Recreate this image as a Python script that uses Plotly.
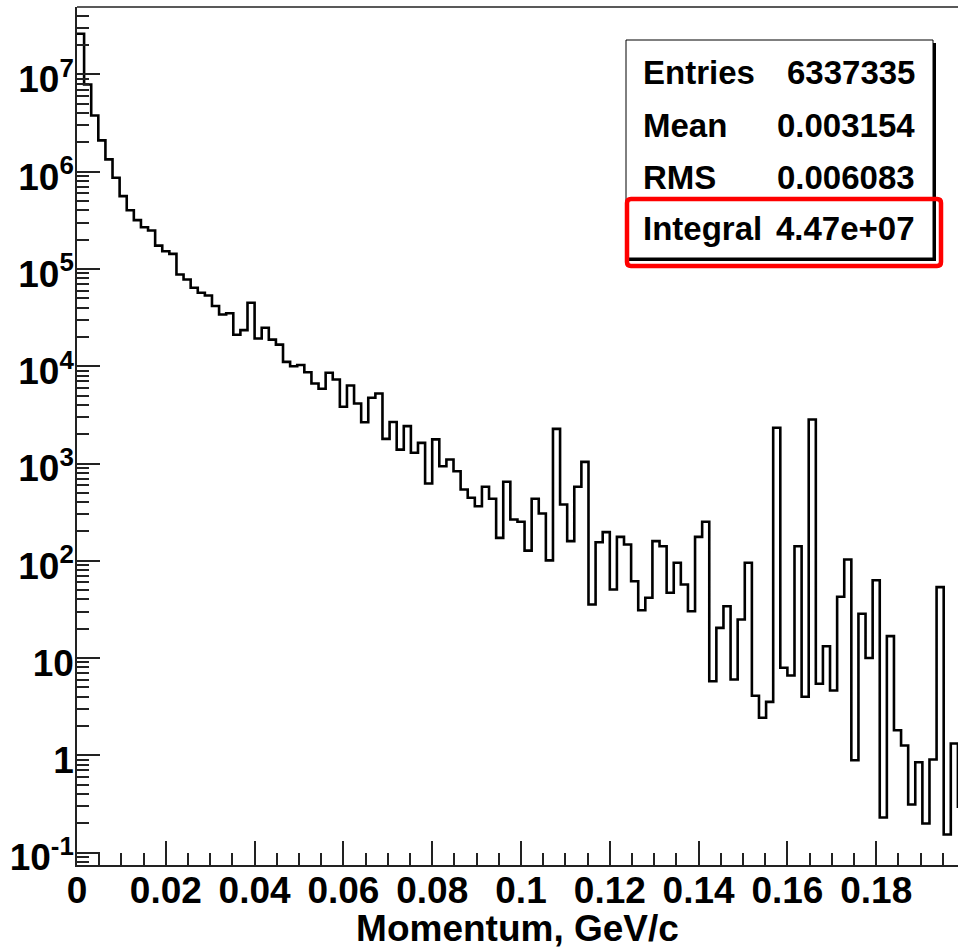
import numpy as np
import plotly.graph_objects as go

# Histogram binning: 125 bins over 0 .. 0.2 GeV/c
BIN_LO, BIN_HI, N_BINS = 0.0, 0.2, 125

# Bin contents (weighted counts per bin)
counts = [
    2.62e7, 7.89e6, 3.79e6, 2.10e6, 1.34e6, 8.67e5, 5.61e5, 4.02e5, 3.18e5, 2.69e5,
    2.49e5, 1.74e5, 1.52e5, 1.43e5, 8.78e4, 7.80e4, 6.41e4, 5.69e4, 5.34e4, 4.16e4,
    3.40e4, 3.51e4, 2.11e4, 2.35e4, 4.49e4, 1.93e4, 2.49e4, 1.88e4, 1.67e4, 1.11e4,
    1.00e4, 1.03e4, 8690, 6650, 5860, 8560, 7310, 3830, 6340, 4140,
    2660, 4740, 5250, 1790, 2670, 1390, 2420, 1290, 1630, 623,
    1770, 938, 1100, 833, 540, 444, 364, 576, 434, 172,
    648, 266, 252, 127, 434, 306, 101, 2270, 379, 159,
    576, 1040, 35.5, 155, 197, 50.6, 176, 147, 61.6, 31.0,
    41.6, 159, 141, 46.8, 95.3, 57.0, 30.3, 176, 252, 5.77,
    20.4, 34.1, 6.01, 24.9, 95.3, 4.09, 2.43, 3.54, 2330, 7.93,
    6.61, 141, 3.99, 2830, 5.43, 13.2, 4.63, 42.6, 103, 0.889,
    28.5, 10.0, 63.1, 0.229, 16.8, 1.81, 1.26, 0.312, 0.848, 0.199,
    0.904, 53.5, 0.153, 1.32, 0.295,
]

# Axis ticks
x_tick_vals = [0, 0.02, 0.04, 0.06, 0.08, 0.10, 0.12, 0.14, 0.16, 0.18]
x_tick_text = ["0", "0.02", "0.04", "0.06", "0.08", "0.1", "0.12", "0.14", "0.16", "0.18"]
y_tick_vals = [1e-1, 1, 1e1, 1e2, 1e3, 1e4, 1e5, 1e6, 1e7]
y_tick_text = ["10<sup>-1</sup>", "1", "10", "10<sup>2</sup>", "10<sup>3</sup>",
               "10<sup>4</sup>", "10<sup>5</sup>", "10<sup>6</sup>", "10<sup>7</sup>"]

# Statistics box contents
stat_names = ["Entries", "Mean", "RMS", "Integral"]
stat_values = ["6337335", "0.003154", "0.006083", "4.47e+07"]

W, H = 958, 949
ML, MR, MT, MB = 77, 0, 7, 84
PW, PH = W - ML - MR, H - MT - MB
X_MAX = BIN_HI * PW / 888.0          # visible part of the axis
Y_RANGE = [-1.1285, 7.694]

edges = np.linspace(BIN_LO, BIN_HI, N_BINS + 1)
vals = np.asarray(counts, dtype=float)
xs = edges
ys = np.append(vals, vals[-1])

def px(x):
    return (x - ML) / PW

def py(y):
    return (MT + PH - y) / PH

fig = go.Figure()
fig.add_trace(go.Scatter(
    x=xs, y=ys, mode="lines", line=dict(shape="hv", color="black", width=2.6),
    hoverinfo="skip", showlegend=False,
))

x_minor = [round(v, 4) for v in np.arange(0.005, 0.2, 0.005) if round(v / 0.02, 6) % 1 != 0]
y_minor = [m * 10.0 ** e for e in range(-2, 8) for m in range(2, 10)]

FONT = "Liberation Sans, Arial, Helvetica, sans-serif"
AX = dict(showline=True, linecolor="#222", linewidth=1.5, ticks="inside",
          tickcolor="#222", tickwidth=1.5, showgrid=False, zeroline=False,
          tickfont=dict(family=FONT, size=37, color="black", weight="bold"))

fig.update_layout(
    width=W, height=H, margin=dict(l=ML, r=MR, t=MT, b=MB, pad=0),
    paper_bgcolor="white", plot_bgcolor="white",
    xaxis=dict(range=[0, X_MAX], tickmode="array", tickvals=x_tick_vals,
               ticktext=x_tick_text, ticklen=24, ticklabelstandoff=-8,
               minor=dict(tickvals=x_minor, ticklen=12, ticks="inside",
                          tickcolor="#222", tickwidth=1.5, showgrid=False),
               title=dict(text="Momentum, GeV/c", standoff=4,
                          font=dict(family=FONT, size=37, color="black", weight="bold")),
               **AX),
    yaxis=dict(type="log", range=Y_RANGE, tickmode="array", tickvals=y_tick_vals,
               ticktext=y_tick_text, ticklen=23, ticklabelstandoff=-6,
               ticklabelshift=5,
               minor=dict(tickvals=y_minor, ticklen=12, ticks="inside",
                          tickcolor="#222", tickwidth=1.5, showgrid=False),
               **AX),
)

# top frame line
fig.add_shape(type="line", xref="paper", yref="paper", x0=0, x1=1, y0=1, y1=1,
              line=dict(color="#222", width=1.5))

# statistics box with shadow
bx0, bx1, by0, by1 = 626, 933, 40, 258
fig.add_shape(type="rect", xref="paper", yref="paper",
              x0=px(bx0 + 3), x1=px(bx1 + 3), y0=py(by1 + 3), y1=py(by0 + 3),
              line=dict(width=0), fillcolor="black")
fig.add_shape(type="rect", xref="paper", yref="paper",
              x0=px(bx0), x1=px(bx1), y0=py(by1), y1=py(by0),
              line=dict(color="black", width=1), fillcolor="white")

row_y = [72, 125, 178, 228]
for name, val, yy in zip(stat_names, stat_values, row_y):
    fig.add_annotation(xref="paper", yref="paper", x=px(641), y=py(yy),
                       xanchor="left", yanchor="middle", text=name, showarrow=False,
                       font=dict(family=FONT, size=33, color="black", weight="bold"))
    fig.add_annotation(xref="paper", yref="paper", x=px(917), y=py(yy),
                       xanchor="right", yanchor="middle", text=val, showarrow=False,
                       font=dict(family=FONT, size=33, color="black", weight="bold"))

# red highlight around the Integral row (rounded corners)
rx0, rx1, ry0, ry1, r = 627, 941, 199, 266, 4
X0, X1 = px(rx0), px(rx1)
Yt, Yb = py(ry0), py(ry1)
dx, dy = r / PW, r / PH
path = (f"M {X0 + dx} {Yt} L {X1 - dx} {Yt} Q {X1} {Yt} {X1} {Yt - dy} "
        f"L {X1} {Yb + dy} Q {X1} {Yb} {X1 - dx} {Yb} "
        f"L {X0 + dx} {Yb} Q {X0} {Yb} {X0} {Yb + dy} "
        f"L {X0} {Yt - dy} Q {X0} {Yt} {X0 + dx} {Yt} Z")
fig.add_shape(type="path", xref="paper", yref="paper", path=path,
              line=dict(color="#ff0000", width=4.5))

fig.write_html("out.html")
